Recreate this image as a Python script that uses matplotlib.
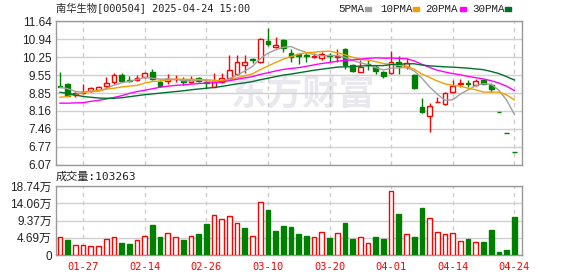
import matplotlib
matplotlib.use('Agg')
import matplotlib.pyplot as plt
import numpy as np

# K线数据 (60个交易日, 2025-01-22 ~ 2025-04-24)
opens = [9.12, 9.19, 8.79, 8.84, 8.93, 8.99, 9.12, 9.27, 9.55, 9.36,
         9.36, 9.46, 9.66, 9.30, 9.32, 9.38, 9.36, 9.30, 9.45, 9.28,
         9.10, 9.30, 9.45, 9.58, 9.96, 10.17, 10.05, 10.89, 10.63, 10.91,
         10.40, 10.36, 10.33, 10.26, 10.23, 10.34, 10.25, 10.55, 9.94, 9.68,
         9.99, 9.86, 9.68, 9.62, 10.07, 9.85, 9.55, 8.32, 7.98, 8.49,
         8.42, 8.91, 9.19, 9.23, 9.16, 9.36, 9.17, 8.10, 7.29, 6.56]
highs = [9.68, 9.23, 8.91, 9.20, 9.08, 9.14, 9.46, 9.62, 9.62, 9.52,
         9.56, 9.68, 9.78, 9.37, 9.58, 9.55, 9.46, 9.50, 9.49, 9.34,
         9.64, 9.62, 10.33, 10.33, 10.33, 10.23, 10.98, 11.37, 11.04, 10.94,
         10.56, 10.40, 10.40, 10.40, 10.45, 10.40, 10.55, 10.60, 10.00, 10.12,
         10.12, 9.95, 9.70, 10.49, 10.29, 10.20, 9.58, 8.65, 8.48, 8.71,
         8.91, 9.35, 9.39, 9.35, 9.40, 9.38, 9.26, 8.10, 7.29, 6.56]
lows = [9.08, 8.73, 8.69, 8.82, 8.88, 8.96, 9.10, 9.21, 9.30, 9.28,
        9.33, 9.44, 9.36, 9.08, 9.22, 9.28, 9.16, 9.26, 9.30, 9.04,
        9.08, 9.26, 9.40, 9.55, 9.62, 10.01, 10.01, 10.70, 10.60, 10.46,
        10.05, 9.99, 10.05, 10.20, 10.15, 10.05, 10.05, 9.80, 9.68, 9.66,
        9.75, 9.58, 9.42, 9.60, 9.60, 9.80, 9.02, 8.07, 7.35, 8.49,
        8.40, 8.84, 9.08, 9.10, 9.14, 9.20, 8.90, 8.10, 7.29, 6.56]
closes = [9.10, 8.75, 8.87, 8.89, 9.04, 9.10, 9.24, 9.55, 9.32, 9.34,
          9.43, 9.64, 9.40, 9.14, 9.39, 9.40, 9.30, 9.39, 9.33, 9.23,
          9.27, 9.43, 9.75, 10.05, 10.07, 10.15, 10.95, 10.76, 10.72, 10.59,
          10.26, 10.30, 10.30, 10.29, 10.36, 10.31, 10.28, 9.95, 9.72, 9.88,
          9.94, 9.70, 9.53, 10.07, 9.92, 10.01, 9.04, 8.13, 8.35, 8.50,
          8.84, 9.14, 9.23, 9.19, 9.32, 9.20, 9.00, 8.10, 7.29, 6.56]

# 均线
ma5 = [9.08, 9.02, 8.92, 8.88, 8.93, 8.93, 9.03, 9.16, 9.25, 9.31,
       9.38, 9.46, 9.43, 9.39, 9.40, 9.39, 9.33, 9.32, 9.36, 9.33,
       9.30, 9.33, 9.40, 9.55, 9.71, 9.89, 10.19, 10.40, 10.53, 10.63,
       10.66, 10.53, 10.43, 10.35, 10.30, 10.31, 10.31, 10.24, 10.12, 10.03,
       9.95, 9.84, 9.75, 9.82, 9.83, 9.85, 9.71, 9.43, 9.09, 8.81,
       8.57, 8.59, 8.81, 8.98, 9.14, 9.22, 9.19, 8.96, 8.58, 8.03]
ma10 = [8.69, 8.72, 8.80, 8.86, 8.92, 8.95, 9.00, 9.04, 9.09, 9.12,
        9.15, 9.24, 9.30, 9.32, 9.36, 9.39, 9.39, 9.38, 9.38, 9.37,
        9.35, 9.33, 9.36, 9.45, 9.52, 9.60, 9.76, 9.90, 10.04, 10.17,
        10.27, 10.36, 10.42, 10.44, 10.47, 10.48, 10.42, 10.34, 10.24, 10.17,
        10.13, 10.07, 10.00, 9.97, 9.93, 9.90, 9.78, 9.59, 9.46, 9.32,
        9.21, 9.15, 9.12, 9.04, 8.98, 8.89, 8.89, 8.89, 8.78, 8.59]
ma20 = [8.46, 8.46, 8.47, 8.48, 8.53, 8.57, 8.62, 8.68, 8.75, 8.84,
        8.91, 8.96, 9.02, 9.08, 9.12, 9.15, 9.17, 9.20, 9.22, 9.24,
        9.25, 9.29, 9.33, 9.39, 9.44, 9.49, 9.58, 9.64, 9.71, 9.77,
        9.81, 9.84, 9.89, 9.95, 10.00, 10.04, 10.09, 10.12, 10.14, 10.17,
        10.20, 10.22, 10.21, 10.21, 10.20, 10.19, 10.10, 9.97, 9.85, 9.74,
        9.67, 9.61, 9.56, 9.50, 9.45, 9.40, 9.33, 9.24, 9.12, 8.95]
ma30 = [8.88, 8.85, 8.78, 8.72, 8.69, 8.66, 8.65, 8.65, 8.67, 8.71,
        8.75, 8.79, 8.82, 8.85, 8.88, 8.91, 8.94, 8.98, 9.01, 9.04,
        9.07, 9.11, 9.16, 9.21, 9.25, 9.30, 9.37, 9.43, 9.49, 9.55,
        9.59, 9.64, 9.69, 9.74, 9.78, 9.82, 9.86, 9.87, 9.88, 9.90,
        9.92, 9.92, 9.92, 9.96, 9.97, 9.99, 9.99, 9.94, 9.91, 9.89,
        9.87, 9.86, 9.84, 9.82, 9.79, 9.76, 9.69, 9.61, 9.49, 9.36]

# 成交量 (万手) 及涨跌
volumes = [4.80, 4.07, 2.62, 2.62, 2.35, 2.35, 4.43, 4.98, 3.26, 2.99,
           4.07, 5.07, 8.15, 4.89, 5.88, 4.89, 4.07, 5.07, 5.70, 8.42,
           10.77, 9.68, 10.50, 8.69, 7.33, 5.07, 14.30, 12.22, 6.52, 7.87,
           7.60, 5.70, 5.16, 4.80, 6.15, 4.62, 5.88, 8.69, 4.34, 4.80,
           3.26, 4.89, 4.34, 17.29, 11.22, 5.70, 4.89, 12.76, 9.96, 6.15,
           5.70, 5.88, 3.80, 4.34, 3.53, 3.62, 6.79, 0.81, 1.36, 10.33]
vol_up = [1, 0, 1, 1, 1, 1, 1, 1, 0, 0, 1, 1, 0, 0, 1, 1, 0, 1, 0, 0,
          1, 1, 1, 1, 0, 1, 1, 0, 0, 0, 0, 0, 0, 1, 1, 0, 1, 0, 0, 1,
          1, 0, 0, 1, 0, 1, 0, 0, 1, 1, 1, 1, 1, 0, 1, 0, 0, 0, 0, 0]

date_pos = [3, 11, 19, 27, 35, 43, 51, 59]
date_labels = ['01-27', '02-14', '02-26', '03-10', '03-20', '04-01', '04-14', '04-24']
price_ticks = [6.07, 6.77, 7.46, 8.16, 8.85, 9.55, 10.25, 10.94, 11.64]
vol_ticks = [0, 4.69, 9.37, 14.06, 18.74]
vol_labels = ['0', '4.69万', '9.37万', '14.06万', '18.74万']

RED = '#ff0000'
GREEN = '#008000'
CJK = ['Noto Sans CJK SC']

o = np.array(opens); h = np.array(highs); l = np.array(lows); c = np.array(closes)
x = np.arange(len(c))
prev = np.r_[c[0], c[:-1]]
up = (c > o) | ((c == o) & (c >= prev))
cols = np.where(up, RED, GREEN)

W, H = 578, 276
fig = plt.figure(figsize=(W / 100, H / 100), dpi=100)
ax = fig.add_axes([56 / W, 1 - 164.7 / H, 466 / W, 143.4 / H])
axv = fig.add_axes([56 / W, 1 - 255 / H, 466 / W, 69 / H])

# 水印
ax.text(0.53, 0.49, '东方财富', transform=ax.transAxes, ha='center', va='center',
        fontsize=26, fontweight='bold', color='#e8e8ee', family=CJK, zorder=0)

# K线
ax.vlines(x, l, h, colors=cols, lw=1, zorder=2)
body_h = np.maximum(np.abs(c - o), 0.015)
ax.bar(x, body_h, bottom=np.minimum(o, c), width=0.6,
       color=np.where(up, 'white', GREEN), edgecolor=cols, lw=1, zorder=3)

ax.plot(x, ma5, color='#a0a0a0', lw=1, zorder=4)
ax.plot(x, ma10, color='#f0a000', lw=1, zorder=4)
ax.plot(x, ma20, color='#ff00ff', lw=1, zorder=4)
ax.plot(x, ma30, color='#007030', lw=1, zorder=4)

ax.set_ylim(6.07, 11.64)
ax.set_yticks(price_ticks)
ax.set_yticklabels(['%.2f' % v for v in price_ticks])

# 成交量
vc = np.where(np.array(vol_up) == 1, RED, GREEN)
axv.bar(x, volumes, width=0.6, color=np.where(np.array(vol_up) == 1, 'white', GREEN),
        edgecolor=vc, lw=1, zorder=3)
axv.set_ylim(0, 18.74)
axv.set_yticks(vol_ticks)
axv.set_yticklabels(vol_labels, family=['Liberation Sans'] + CJK)

for a in (ax, axv):
    a.set_xlim(-0.52, 60.0)
    a.set_xticks(date_pos)
    a.grid(True, axis='y', color='#d0d0d0', lw=1, zorder=1)
    a.grid(True, axis='x', color='#cccccc', lw=1, ls=(0, (3, 3)), zorder=1)
    a.set_axisbelow(True)
    a.tick_params(length=0, pad=3, labelsize=8.5, colors='#222222')
    for s in a.spines.values():
        s.set_color('#999999')
        s.set_linewidth(1)

for t in ax.get_yticklabels():
    t.set_family('Liberation Sans')
ax.set_xticklabels([])
axv.set_xticklabels(date_labels, family='DejaVu Sans Mono', fontsize=7.5, color=RED)
axv.tick_params(axis='x', pad=5, colors=RED)

# 标题与图例
fig.text(56 / W, 1 - 9 / H, '南华生物[000504] 2025-04-24 15:00', va='center', ha='left',
         fontsize=7.4, family=['DejaVu Sans Mono'] + CJK, color='#222222')
fig.text(56 / W, 1 - 177 / H, '成交量:103263', va='center', ha='left',
         fontsize=8, family=['DejaVu Sans Mono'] + CJK, color='#222222')

legend_names = ['5PMA', '10PMA', '20PMA', '30PMA']
legend_cols = ['#a0a0a0', '#f0a000', '#ff00ff', '#007030']
legend_x = [338, 380, 425, 472]
legend_mark = [365, 413, 460, 505]
for name, col, tx, mx in zip(legend_names, legend_cols, legend_x, legend_mark):
    fig.text(tx / W, 1 - 9 / H, name, va='center', ha='left', fontsize=7.8,
             family='Liberation Mono', color='#222222')
    fig.patches.append(plt.Rectangle((mx / W, 1 - 10.5 / H), 6 / W, 3 / H,
                                     transform=fig.transFigure, color=col))

fig.savefig('out.png', dpi=100)
